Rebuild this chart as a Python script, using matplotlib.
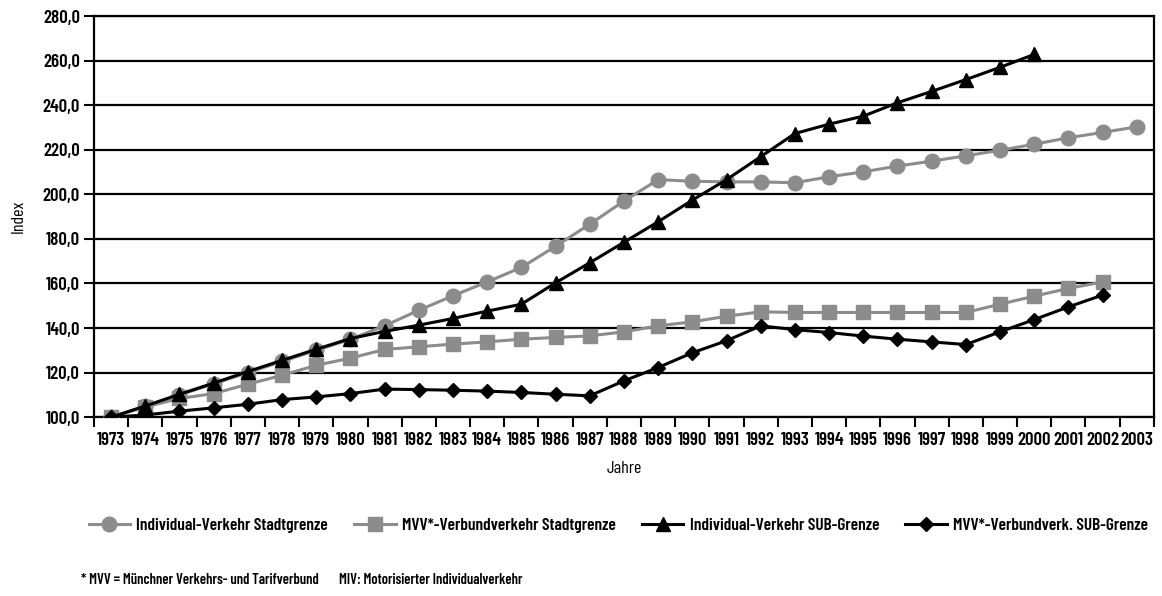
import numpy as np
import matplotlib
matplotlib.use("Agg")
import matplotlib.pyplot as plt

plt.rcParams['font.family'] = ['Barlow Condensed', 'DejaVu Sans']
plt.rcParams['font.weight'] = 600

years = [str(y) for y in range(1973, 2004)]

# Individual-Verkehr Stadtgrenze (1973-2003)
iv_stadt = [100, 105, 110, 115, 120, 125, 130, 135, 141, 148, 154.5, 160.7, 167.2,
            176.7, 186.6, 197, 206.6, 205.9, 205.6, 205.6, 205.2, 207.9, 210.1,
            212.7, 214.9, 217.3, 219.8, 222.5, 225.4, 227.8, 230.3]
# MVV*-Verbundverkehr Stadtgrenze (1973-2002)
mvv_stadt = [100, 104.6, 108.4, 110.6, 114.8, 118.8, 123.3, 126.5, 130.4, 131.6,
             132.8, 133.8, 135, 135.8, 136.5, 138.3, 141, 142.8, 145.3, 147.3,
             147, 147, 147, 147, 147, 147, 150.7, 154.3, 157.8, 160.7]
# Individual-Verkehr SUB-Grenze (1973-2000)
iv_sub = [100, 105, 110.3, 115.3, 120.5, 125.5, 130.5, 135.3, 138.5, 141.3, 144.3,
          147.6, 150.7, 160.3, 169.3, 178.5, 187.7, 197.4, 206.6, 216.9, 227.3,
          231.5, 235.1, 241.1, 246.2, 251.5, 257, 262.8]
# MVV*-Verbundverk. SUB-Grenze (1973-2002)
mvv_sub = [100, 101, 102.7, 104.2, 105.8, 107.9, 109.1, 110.6, 112.6, 112.4, 112.1,
           111.7, 111.1, 110.3, 109.6, 116.3, 122.3, 128.9, 134.3, 141, 139.3,
           138, 136.4, 135, 133.8, 132.6, 138.3, 143.8, 149.5, 154.8]

labels = ["Individual-Verkehr Stadtgrenze", "MVV*-Verbundverkehr Stadtgrenze",
          "Individual-Verkehr SUB-Grenze", "MVV*-Verbundverk. SUB-Grenze"]

gray = "#8c8c8c"
x = np.arange(len(years))

fig = plt.figure(figsize=(11.62, 5.96), dpi=100)
ax = fig.add_axes([0.0809, 0.300, 0.9121, 0.673])

ax.plot(x[:len(iv_stadt)], iv_stadt, color=gray, lw=2.2, marker="o", ms=10.5,
        mfc=gray, mec=gray, label=labels[0], zorder=3)
ax.plot(x[:len(mvv_stadt)], mvv_stadt, color=gray, lw=2.2, marker="s", ms=9.5,
        mfc=gray, mec=gray, label=labels[1], zorder=3)
ax.plot(x[:len(iv_sub)], iv_sub, color="black", lw=2.2, marker="^", ms=9.5,
        mfc="black", mec="black", label=labels[2], zorder=4)
ax.plot(x[:len(mvv_sub)], mvv_sub, color="black", lw=2.2, marker="D", ms=7.5,
        mfc="black", mec="black", label=labels[3], zorder=4)

ax.set_xlim(-0.5, len(years) - 0.5)
ax.set_ylim(100, 280)
ax.set_yticks(np.arange(100, 281, 20))
ax.set_yticklabels([f"{v:.1f}".replace(".", ",") for v in range(100, 281, 20)], fontsize=13.5)
ax.set_xticks(x)
ax.set_xticklabels(years, fontsize=13.5)
ax.set_xticks(np.arange(-0.5, len(years)), minor=True)
ax.tick_params(axis="x", which="major", length=0, pad=11)
ax.tick_params(axis="x", which="minor", length=7, width=1.5, direction="out")
ax.tick_params(axis="y", length=7, width=1.5, direction="out", pad=3)
ax.grid(axis="y", color="black", lw=1.6)
ax.set_axisbelow(True)
for s in ax.spines.values():
    s.set_linewidth(1.6)

ax.set_xlabel("Jahre", fontsize=13, labelpad=8)
ax.set_ylabel("Index", fontsize=13, labelpad=12)

fig.legend(loc="center", bbox_to_anchor=(0.532, 0.119), ncol=4, frameon=False,
           fontsize=12.5, handlelength=2.4, columnspacing=1.5, handletextpad=0.35)

# footnotes: second one is placed right after the first so they never collide
note1 = fig.text(0.070, 0.027, "* MVV = Münchner Verkehrs- und Tarifverbund",
                 fontsize=10.5, va="center")
ax.annotate("MIV: Motorisierter Individualverkehr", xy=(1, 0.5), xycoords=note1,
            xytext=(14, 0), textcoords="offset points", fontsize=10.5,
            va="center", ha="left", annotation_clip=False)

fig.savefig("out.png", dpi=100)
